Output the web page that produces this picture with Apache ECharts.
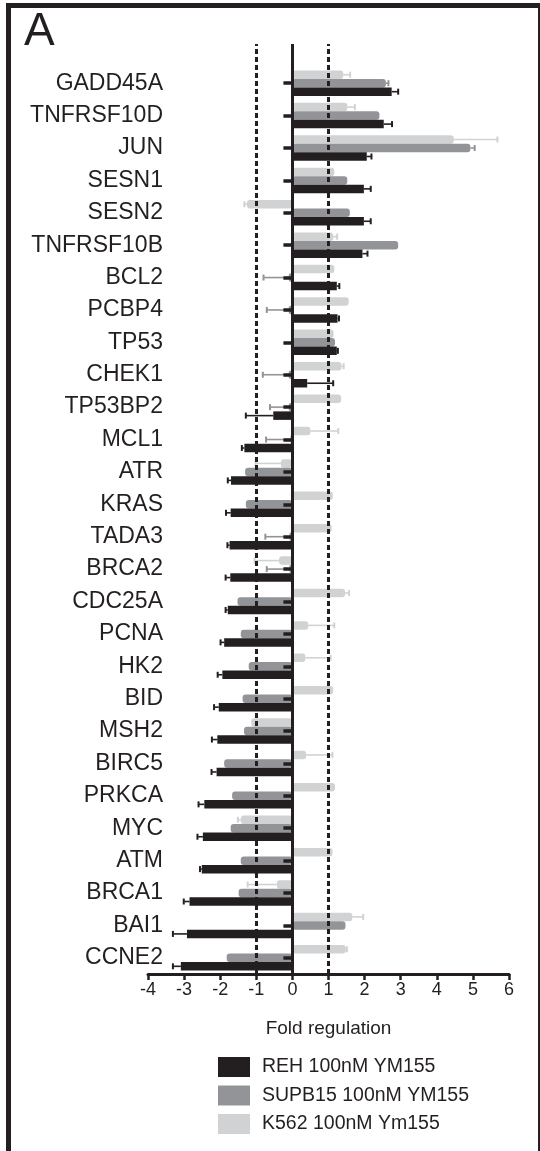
<!DOCTYPE html>
<html>
<head>
<meta charset="utf-8">
<script src="https://cdn.jsdelivr.net/npm/echarts@6/dist/echarts.min.js"></script>
<style>
  html, body { margin: 0; padding: 0; background: #fff; }
  #chart { width: 540px; height: 1151px; }
</style>
</head>
<body>
<div id="chart"></div>
<script>
const genes = ['GADD45A', 'TNFRSF10D', 'JUN', 'SESN1', 'SESN2', 'TNFRSF10B', 'BCL2', 'PCBP4', 'TP53',
  'CHEK1', 'TP53BP2', 'MCL1', 'ATR', 'KRAS', 'TADA3', 'BRCA2', 'CDC25A', 'PCNA', 'HK2', 'BID',
  'MSH2', 'BIRC5', 'PRKCA', 'MYC', 'ATM', 'BRCA1', 'BAI1', 'CCNE2'];

// REH 100nM YM155 (black)
const rehValues = [2.75, 2.53, 2.06, 1.98, 1.98, 1.94, 1.23, 1.25, 1.23, 0.41, -0.53, -1.33, -1.70, -1.71,
  -1.74, -1.72, -1.79, -1.89, -1.94, -2.04, -2.08, -2.10, -2.44, -2.48, -2.51, -2.85, -2.92, -3.09];
const rehErrors = [0.18, 0.23, 0.13, 0.19, 0.19, 0.14, 0.07, 0.04, 0.03, 0.72, 0.76, 0.07, 0.09, 0.13,
  0.06, 0.13, 0.06, 0.10, 0.13, 0.13, 0.15, 0.14, 0.16, 0.15, 0.05, 0.16, 0.39, 0.22];

// SUPB15 100nM YM155 (grey)
const supValues = [2.59, 2.41, 4.93, 1.52, 1.59, 2.93, -0.10, -0.10, 1.18, -0.10, -0.10, -0.05, -1.31, -1.29,
  -0.08, -0.08, -1.52, -1.43, -1.21, -1.38, -1.34, -1.89, -1.67, -1.71, -1.43, -1.49, 1.47, -1.82];
const supErrors = [0.07, 0, 0.12, 0, 0, 0, 0.70, 0.61, 0, 0.72, 0.52, 0.68, 0, 0,
  0.67, 0.63, 0, 0, 0, 0, 0, 0, 0, 0, 0, 0, 0, 0];

// K562 100nM Ym155 (light grey)
const k562Values = [1.41, 1.52, 4.47, 1.16, -1.26, 1.13, 1.16, 1.56, 1.14, 1.36, 1.35, 0.50, -0.32, 1.12,
  1.09, -0.37, 1.46, 0.44, 0.36, 1.13, -1.14, 0.38, 1.18, -1.43, 1.11, -0.43, 1.66, 1.48];
const k562Errors = [0.19, 0.21, 1.21, 0, 0.07, 0.11, 0, 0, 0, 0.06, 0, 0.77, 0.70, 0,
  0, 0.68, 0.11, 0.72, 0.70, 0, 0, 0.73, 0, 0.08, 0, 0.81, 0.30, 0.03];

const xTicks = [-4, 6];
const refLines = [-1, 1];
const legendNames = ['REH 100nM YM155', 'SUPB15 100nM YM155', 'K562 100nM Ym155'];

const INK = '#231f20';
const FONT = 'Liberation Sans, Arial, sans-serif';
const BAR_W = 8.5;

const chart = echarts.init(document.getElementById('chart'), null, { renderer: 'canvas' });

function barSeries(name, values, color, radius) {
  return {
    type: 'bar', name: name, data: values,
    xAxisIndex: 0, yAxisIndex: 0,
    barWidth: BAR_W, barGap: '0%',
    itemStyle: { color: color, borderRadius: radius },
    z: 2
  };
}

// one-sided error bars, drawn outward from the bar end
function errorSeries(name, values, errors, color, shift) {
  return {
    type: 'custom', name: name,
    xAxisIndex: 0, yAxisIndex: 0,
    data: values.map((v, i) => [v, i, errors[i]]),
    encode: { x: 0, y: 1 },
    z: 3,
    renderItem: function (params, api) {
      const v = api.value(0), i = api.value(1), e = api.value(2);
      if (!e) return null;
      const end = v + (v < 0 ? -e : e);
      const p0 = api.coord([v, i]);
      const p1 = api.coord([end, i]);
      const y = p0[1] + shift;
      return {
        type: 'group',
        children: [
          { type: 'line', shape: { x1: p0[0], y1: y, x2: p1[0], y2: y }, style: { stroke: color, lineWidth: 1.6 } },
          { type: 'line', shape: { x1: p1[0], y1: y - 3, x2: p1[0], y2: y + 3 }, style: { stroke: color, lineWidth: 2 } }
        ]
      };
    }
  };
}

const colors = { reh: INK, sup: '#929497', k562: '#d1d2d4' };

chart.setOption({
  animation: false,
  backgroundColor: '#fff',
  textStyle: { fontFamily: FONT, color: INK },
  grid: [
    { left: 148, right: 31, top: 67, bottom: 177, containLabel: false, outerBoundsMode: 'none' },
    { left: 148, right: 31, top: 44, bottom: 177, containLabel: false, outerBoundsMode: 'none' }
  ],
  legend: {
    orient: 'vertical', left: 213, top: 1052,
    itemWidth: 32, itemHeight: 20, itemGap: 8.5,
    icon: 'rect',
    data: legendNames,
    textStyle: { fontSize: 19.5, color: INK, fontFamily: FONT, padding: [0, 0, 0, 7] }
  },
  xAxis: [
    {
      gridIndex: 0, type: 'value', min: xTicks[0], max: xTicks[1], interval: 1,
      position: 'bottom',
      name: 'Fold regulation', nameLocation: 'middle', nameGap: 45,
      nameTextStyle: { fontSize: 19, color: INK, fontFamily: FONT },
      axisLine: { show: true, onZero: false, lineStyle: { color: INK, width: 3 } },
      axisTick: { show: true, length: 6, lineStyle: { color: INK, width: 2.5 } },
      axisLabel: { fontSize: 18, color: INK, margin: 7, fontFamily: FONT },
      splitLine: { show: false }
    },
    { gridIndex: 1, type: 'value', min: xTicks[0], max: xTicks[1], show: false }
  ],
  yAxis: [
    {
      gridIndex: 0, type: 'category', data: genes, inverse: true,
      z: 10,
      axisLine: { show: true, onZero: true, lineStyle: { color: INK, width: 3 } },
      axisTick: { show: true, alignWithLabel: true, length: 9, lineStyle: { color: INK, width: 3.5 } },
      // labels sit at the grid edge, not at the zero line
      axisLabel: { fontSize: 23, color: INK, margin: -15, fontFamily: FONT },
      splitLine: { show: false }
    },
    { gridIndex: 1, type: 'value', min: 0, max: 1, show: false }
  ],
  series: [
    // light bar on top of each group, black at the bottom
    barSeries(legendNames[2], k562Values, colors.k562, 3),
    barSeries(legendNames[1], supValues, colors.sup, 3),
    barSeries(legendNames[0], rehValues, colors.reh, 0),
    errorSeries('K562 error', k562Values, k562Errors, colors.k562, -BAR_W),
    errorSeries('SUPB15 error', supValues, supErrors, colors.sup, 0),
    errorSeries('REH error', rehValues, rehErrors, colors.reh, BAR_W),
    {
      type: 'line', name: 'guides', xAxisIndex: 1, yAxisIndex: 1, data: [], z: 6,
      markLine: {
        silent: true, symbol: 'none', label: { show: false },
        data: [
          { xAxis: 0, lineStyle: { color: INK, width: 3, type: 'solid' } },
          { xAxis: refLines[0], lineStyle: { color: INK, width: 3, type: [5, 3] } },
          { xAxis: refLines[1], lineStyle: { color: INK, width: 3, type: [5, 3] } }
        ]
      }
    }
  ],
  graphic: [
    { type: 'rect', left: 6, top: 3, shape: { width: 5, height: 1148 }, style: { fill: INK } },
    { type: 'rect', left: 6, top: 3, shape: { width: 534, height: 5 }, style: { fill: INK } },
    { type: 'rect', left: 538, top: 3, shape: { width: 2, height: 1148 }, style: { fill: INK } },
    { type: 'text', left: 24, top: 9, style: { text: 'A', fontSize: 46, fontFamily: FONT, fill: INK } }
  ]
});
</script>
</body>
</html>
